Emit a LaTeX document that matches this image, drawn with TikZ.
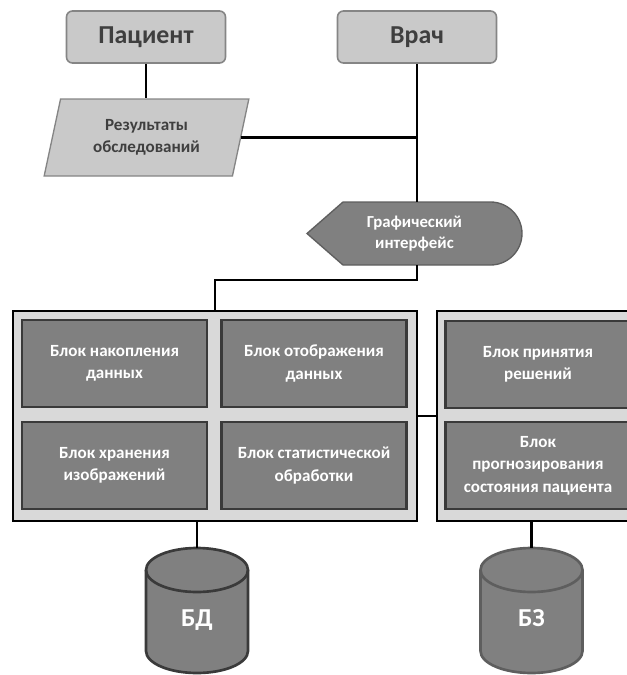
\documentclass[tikz,border=0pt]{standalone}
\usepackage{fontspec}
\setmainfont{Carlito}
\usetikzlibrary{shapes.geometric}
\definecolor{lightfill}{HTML}{C9C9C9}
\definecolor{panelfill}{HTML}{D9D9D9}
\definecolor{midfill}{HTML}{808080}
\definecolor{actorline}{HTML}{858585}
\definecolor{darktext}{HTML}{3F3F3F}
\definecolor{darkline}{HTML}{3A3A3A}
\definecolor{softline}{HTML}{5E5E5E}

\begin{document}
\begin{tikzpicture}[x=0.75pt,y=-0.75pt,
  actor/.style={draw=actorline,line width=1.2pt,fill=lightfill,rounded corners=4.5pt,
    minimum width=119.25pt,minimum height=39pt,text=darktext,
    font=\bfseries\fontsize{19.4}{23}\selectfont},
  datain/.style={trapezium,trapezium left angle=76,trapezium right angle=104,
    trapezium stretches=true,draw=actorline,line width=1pt,fill=lightfill,
    minimum width=153.75pt,minimum height=57.75pt,text=darktext,align=center,
    font=\bfseries\fontsize{12.8}{16.2}\selectfont},
  guishape/.style={draw=softline,line width=1pt,fill=midfill},
  guitext/.style={minimum width=161.25pt,minimum height=47.25pt,text=white,align=center,
    font=\bfseries\fontsize{12.6}{16.3}\selectfont},
  panel/.style={draw=black,line width=1.5pt,fill=panelfill,minimum width=303pt,
    minimum height=157.5pt},
  block/.style={draw=darkline,line width=1.6pt,fill=midfill,minimum width=138.75pt,
    minimum height=65.25pt,text=white,align=center,
    font=\bfseries\fontsize{12.8}{16.8}\selectfont},
  dbshape/.style={line width=2pt,fill=midfill},
  dbtext/.style={minimum width=76.5pt,minimum height=93.75pt,text=white,
    text height=23.4pt,text depth=0pt,font=\bfseries\fontsize{19.4}{23}\selectfont},
  link/.style={line width=2.2pt}]
\clip (0,0) rectangle (627,675);

% users and input
\node[actor] (pac) at (146,37) {Пациент};
\node[actor] (vrach) at (417,37) {Врач};
\node[datain] (res) at (146.5,137.5) {Результаты\\обследований};

% interface
\draw[guishape] (307,233.5) -- (343,202) -- (490.5,202)
  arc[start angle=-90,end angle=90,radius=31.5] -- (343,265) -- cycle;
\node[guitext] (gui) at (414.5,233.5) {Графический\\интерфейс};

% system blocks
\node[panel] (bigL) at (215,416) {};
\node[panel,minimum width=151.5pt] (bigR) at (538,416) {};
\node[block] (acc) at (114.5,363.5) {Блок накопления\\данных};
\node[block] (disp) at (314,363.5) {Блок отображения\\данных};
\node[block] (store) at (114.5,465.5) {Блок хранения\\изображений};
\node[block] (stat) at (314,465.5) {Блок статистической\\обработки};
\node[block] (dec) at (538,364.5) {Блок принятия\\решений};
\node[block] (prog) at (538,465.5) {Блок\\прогнозирования\\состояния пациента};

% databases
\foreach \cx/\nm/\lbl/\edge in {197/bd/БД/darkline,531.5/bz/БЗ/softline}{
  \draw[dbshape,draw=\edge] (\cx-51,570) -- (\cx-51,651)
    arc[start angle=180,end angle=0,x radius=51,y radius=22] -- (\cx+51,570)
    arc[start angle=0,end angle=-180,x radius=51,y radius=22] -- cycle;
  \draw[dbshape,draw=\edge,fill=none] (\cx-51,570)
    arc[start angle=180,end angle=0,x radius=51,y radius=22];
  \node[dbtext] (\nm) at (\cx,610.5) {\lbl};
}

% connections
\coordinate (bend) at (417,280);
\draw[link] (pac.south) -- (pac.south |- res.north);
\draw[link] (vrach.south) -- (vrach.south |- gui.north);
\draw[link] (res.east) -- (res.east -| vrach.south);
\draw[link] (vrach.south |- gui.south) -- (bend) -| (bigL.north);
\draw[link] (bigL.east) -- (bigR.west);
\draw[link] (bigL.south -| bd.north) -- (bd.north);
\draw[link] (bigR.south -| bz.north) -- (bz.north);
\end{tikzpicture}
\end{document}
